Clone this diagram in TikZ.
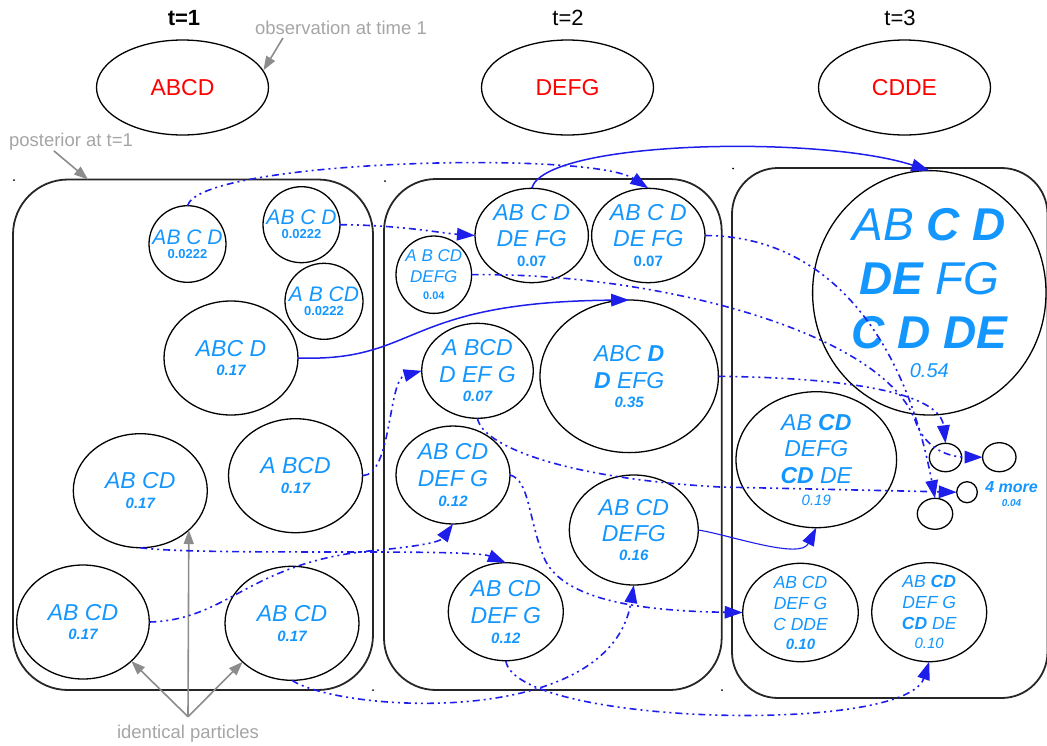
\documentclass[tikz,border=0pt]{standalone}
\usepackage{fontspec}
\setmainfont{Liberation Sans}
\usetikzlibrary{shapes.geometric,arrows.meta}
\definecolor{tblue}{RGB}{20,150,255}
\definecolor{ablue}{RGB}{30,30,235}
\definecolor{lgray}{RGB}{165,165,165}
\definecolor{agray}{RGB}{140,140,140}
\newcommand\fsz[2]{\fontsize{#1}{#2}\selectfont}
\newcommand\pnode[7]{\node[pcl, minimum width=#4pt, minimum height=#5pt, label={[ptxt, name=#1t, font=#6]center:{#7}}] (#1) at (#2,#3) {};}
\newcommand\nbi[1]{{\fsz{15}{17}\bfseries #1}}
\newcommand\nbu[1]{{\fsz{15}{17}\bfseries\upshape #1}}
\newcommand\nri[1]{{\fsz{15}{17}#1}}
\begin{document}
\begin{tikzpicture}[x=1pt,y=-1pt,
  pcl/.style={ellipse, draw=black, line width=1.3pt, inner sep=0pt, outer sep=0pt},
  ptxt/.style={align=center, text=tblue, inner sep=0pt},
  obs/.style={ellipse, draw=black, line width=1.3pt, text=red, font=\fsz{23}{27}, minimum width=172pt, minimum height=95pt, inner sep=0pt},
  panel/.style={rectangle, draw=black!85, line width=1.8pt, inner sep=0pt, outer sep=0pt},
  dd/.style={ablue, line width=1.6pt, dash pattern=on 7pt off 4pt on 2pt off 4pt on 2pt off 4pt, -{Triangle[length=18pt,width=12.5pt]}},
  sol/.style={ablue, line width=1.5pt, -{Triangle[length=18pt,width=12.5pt]}},
  gar/.style={agray, line width=1.6pt, -{Triangle[length=14pt,width=10pt]}},
  glbl/.style={text=lgray, font=\fsz{18.5}{21}, inner sep=0pt},
  tlbl/.style={font=\fsz{22}{26}, inner sep=0pt}
]
\useasboundingbox (0,0) rectangle (1047,745);

% panels
\node[panel, minimum width=360pt, minimum height=510.5pt, rounded corners=55pt] (pan1) at (193,434.75) {};
\node[panel, minimum width=337.7pt, minimum height=511pt, rounded corners=52pt] (pan2) at (552.85,434.5) {};
\node[panel, minimum width=315.5pt, minimum height=530pt, rounded corners=46pt] (pan3) at (889.75,433) {};

% corner dots
\fill (14,180) circle (1);
\fill (385,181) circle (1);
\fill (733,168.5) circle (1);
\fill (373,690) circle (1);
\fill (722,690) circle (1);

% time labels and observations
\node[tlbl, font=\fsz{22}{26}\bfseries] (t1) at (184,18) {t=1};
\node[tlbl] (t2) at (568,18) {t=2};
\node[tlbl] (t3) at (900,18) {t=3};
\node[obs] (ABCD) at (182.5,87.5) {ABCD};
\node[obs] (DEFG) at (567.5,87.5) {DEFG};
\node[obs] (CDDE) at (904.5,87.5) {CDDE};

% gray annotations
\node[glbl] (obslbl) at (341,28) {observation at time 1};
\node[glbl] (postlbl) at (71,142) {posterior at t=1};
\node[glbl] (idlbl) at (188,733.5) {identical particles};

% t=1 particles
\pnode{P1a}{187.5}{244}{77}{76.6}{\fsz{21}{24}\itshape}{AB C D\\[-10pt]{\fsz{13}{15}\bfseries\upshape 0.0222}}
\pnode{P1b}{301.5}{224.7}{77}{76}{\fsz{21}{24}\itshape}{AB C D\\[-10pt]{\fsz{13}{15}\bfseries\upshape 0.0222}}
\pnode{P1c}{324}{301.3}{78}{76}{\fsz{21}{24}\itshape}{A B CD\\[-10pt]{\fsz{13}{15}\bfseries\upshape 0.0222}}
\pnode{P1d}{231}{358}{134}{114}{\fsz{23}{26.7}\itshape}{ABC D\\[-7pt]\nbi{0.17}}
\pnode{P1e}{140.3}{490.7}{134}{114}{\fsz{23}{26.7}\itshape}{AB CD\\[-7pt]\nbi{0.17}}
\pnode{P1f}{295.5}{475.7}{134}{114}{\fsz{23}{26.7}\itshape}{A BCD\\[-7pt]\nbi{0.17}}
\pnode{P1g}{83}{622}{132.6}{114}{\fsz{23}{26.7}\itshape}{AB CD\\[-7pt]\nbi{0.17}}
\pnode{P1h}{292}{623.3}{134}{114}{\fsz{23}{26.7}\itshape}{AB CD\\[-7pt]\nbi{0.17}}

% t=2 particles
\pnode{P2a}{433.8}{274.7}{75.6}{77.4}{\fsz{17}{21}\itshape}{A B CD\\DEFG\\[-3.7pt]{\fsz{11}{13}\bfseries\upshape 0.04}}
\pnode{P2b}{531.7}{235.5}{113.4}{94.4}{\fsz{23}{26.7}\itshape}{AB C D\\DE FG\\[-6.7pt]\nbu{0.07}}
\pnode{P2c}{648.3}{235.5}{113.4}{94.4}{\fsz{23}{26.7}\itshape}{AB C D\\DE FG\\[-6.7pt]\nbu{0.07}}
\pnode{P2d}{477.5}{370.8}{111.6}{95}{\fsz{23}{26.7}\itshape}{A BCD\\D EF G\\[-7.7pt]\nbi{0.07}}
\pnode{P2e}{629.2}{376.3}{178.4}{152.6}{\fsz{23}{26.7}\itshape}{ABC \textbf{D}\\\textbf{D} EFG\\[-7.7pt]\nbi{0.35}}
\pnode{P2f}{453}{475}{114}{98}{\fsz{23}{26.7}\itshape}{AB CD\\DEF G\\[-6.7pt]\nbi{0.12}}
\pnode{P2g}{633.8}{530}{129}{110}{\fsz{23}{26.7}\itshape}{AB CD\\DEFG\\[-7.7pt]\nbi{0.16}}
\pnode{P2h}{505.8}{611.7}{115}{98}{\fsz{23}{26.7}\itshape}{AB CD\\DEF G\\[-6.7pt]\nbi{0.12}}

% t=3 particles
\pnode{P3a}{929.3}{292.8}{233.4}{244.4}{\fsz{46}{54}\itshape}{AB \textbf{C D}\\\textbf{DE} FG\\\textbf{C D DE}\\[-25pt]{\fsz{20}{24}\mdseries 0.54}}
\pnode{P3b}{816.3}{459.7}{160.6}{136}{\fsz{23}{26.7}\itshape}{AB \textbf{CD}\\DEFG\\\textbf{CD} DE\\[-5pt]\nri{0.19}}
\pnode{P3c}{800.5}{612.5}{115.6}{98.4}{\fsz{17.5}{21}\itshape}{AB CD\\DEF G\\C DDE\\[-2pt]\nbi{0.10}}
\pnode{P3d}{929.2}{612.2}{115}{99}{\fsz{17.5}{21}\itshape}{AB \textbf{CD}\\DEF G\\\textbf{CD} DE\\[-2pt]\nri{0.10}}
\node[pcl, minimum width=32.4pt, minimum height=28.4pt] (s1) at (945.5,457.5) {};
\node[pcl, minimum width=33.4pt, minimum height=29pt] (s2) at (999.3,457.2) {};
\node[pcl, minimum width=20.6pt, minimum height=21pt] (s3) at (967,492.2) {};
\node[pcl, minimum width=35.4pt, minimum height=31pt] (s4) at (935,513.8) {};
\node[ptxt, font=\fsz{16}{13.4}\bfseries\itshape] (more) at (1011.5,494) {4 more\\{\fsz{10}{12}0.04}};

% gray arrows
\draw[gar] ([xshift=28pt,yshift=-3pt]obslbl.south west) -- (ABCD.12);
\draw[gar] ([xshift=45pt]postlbl.south west) -- ([xshift=75pt]pan1.north west);
\draw[gar] ([yshift=8pt]idlbl.north) -- (P1g.-39);
\draw[gar] ([yshift=8pt]idlbl.north) -- (P1e.-39);
\draw[gar] ([yshift=8pt]idlbl.north) -- (P1h.218);

% t=1 -> t=2
\draw[dd] (P1a.north) .. controls (200,160) and (590,150) .. (P2c.north);
\draw[dd] (P1b.east) .. controls (400,225) and (440,233) .. (P2b.west);
\draw[sol] (P1d.east) .. controls (420,362) and (400,302) .. (P2e.north);
\draw[dd] (P1f.east) .. controls (392,475) and (388,380) .. (P2d.west);
\draw[dd] (P1e.south) .. controls (200,556) and (470,548) .. (P2h.north);
\draw[dd] (P1g.east) .. controls (230,620) and (250,560) .. (380,550) .. controls (420,546) and (440,542) .. (P2f.south);
\draw[dd] (P1h.south) .. controls (340,712) and (610,730) .. (P2g.south);

% t=2 -> t=3
\draw[sol] (P2b.north) .. controls (545,140) and (820,135) .. (P3a.north);
\draw[sol, line width=1.1pt] (P2g.east) .. controls (730,535) and (800,560) .. (P3b.south);
\draw[dd] (P2h.south) .. controls (515,725) and (905,735) .. (P3d.south);
\draw[dd] (P2f.east) .. controls (530,480) and (528,520) .. (545,560) .. controls (565,600) and (640,611) .. (P3c.west);
\draw[dd] (P2c.east) .. controls (830,236) and (905,340) .. (s4.north);
\draw[dd] (P2a.east) .. controls (650,272) and (880,330) .. (915,420) .. controls (925,450) and (950,457) .. (s2.west);
\draw[dd] (P2e.east) .. controls (860,378) and (940,395) .. (s1.north);
\draw[dd] (P2d.south) .. controls (482,445) and (560,478) .. (720,487) -- (s3.west);

\end{tikzpicture}
\end{document}
